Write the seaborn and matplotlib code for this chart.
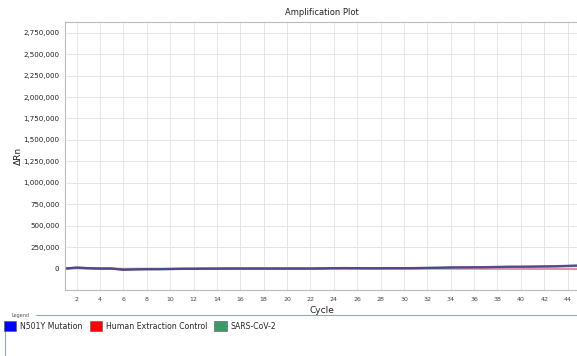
import numpy as np
import pandas as pd
import matplotlib
matplotlib.use("Agg")
import matplotlib.pyplot as plt
from matplotlib.patches import Patch
from matplotlib.lines import Line2D
from matplotlib.ticker import FuncFormatter, MultipleLocator
import seaborn as sns

# ==========================================================
# DATA
# ==========================================================

cycles = list(range(1, 46))
n501y = [0, 12000, 5000, 0, 0, -15000, -10000, -8000, -8000, -6000,
         -4000, -3000, -2000, -1000, 0, 0, 0, 0, 0, 0,
         0, 0, 2000, 5000, 6000, 5000, 4000, 4000, 5000, 5000,
         6000, 8000, 10000, 14000, 15000, 16000, 17000, 20000, 22000, 22000,
         24000, 26000, 28000, 32000, 36000]
human_ctrl = [0, 6000, 2000, 0, 0, -4000, -3000, -2000, -2000, -1000,
              0, 0, 0, 0, 0, 0, 0, 0, 0, 0,
              0, 0, 0, 0, 0, 0, 0, 0, 0, 0,
              0, 0, 0, -1000, -1000, -1000, -2000, -2000, -2000, -3000,
              -3000, -3000, -4000, -4000, -4000]
sars = [0, 10000, 4000, 0, 0, -12000, -9000, -7000, -7000, -5000,
        -3000, -2000, -1000, 0, 0, 0, 0, 0, 0, 0,
        0, 0, 2000, 4000, 5000, 4000, 3000, 3000, 4000, 4000,
        5000, 7000, 9000, 12000, 13000, 14000, 15000, 17000, 19000, 20000,
        21000, 23000, 25000, 29000, 33000]

series_names = ["N501Y Mutation", "Human Extraction Control", "SARS-CoV-2"]
series_colors = ["#0000ff", "#ff0000", "#3a9a68"]
line_colors = ["#4a3c8c", "#e07a9a", "#4a6a70"]

df = pd.concat([
    pd.DataFrame({"Cycle": cycles, "dRn": vals, "Target": name})
    for name, vals in zip(series_names, [n501y, human_ctrl, sars])
])

# ==========================================================
# PLOT
# ==========================================================

sns.set_style("white")
plt.rcParams['font.family'] = ['DejaVu Sans']

fig = plt.figure(figsize=(5.77, 3.56), dpi=100)
ax = fig.add_axes([65 / 577, 1 - 290 / 356, 1 - 65 / 577 + 0.004, (290 - 22) / 356])

# lines look dark purple with a pink halo in the instrument export
palette = dict(zip(series_names, line_colors))
sns.lineplot(data=df, x="Cycle", y="dRn", hue="Target",
             hue_order=["Human Extraction Control", "SARS-CoV-2", "N501Y Mutation"],
             palette=palette, linewidth=1.6, alpha=0.8, legend=False, ax=ax)

ax.set_xlim(1, 45)
ax.set_ylim(-250000, 2875000)
ax.xaxis.set_major_locator(MultipleLocator(2))
ax.yaxis.set_major_formatter(FuncFormatter(lambda v, p: f"{int(v):,}"))
ax.set_yticks(np.arange(0, 2750001, 250000))

ax.grid(True, color="#e6e6e6", linewidth=0.7)
for s in ax.spines.values():
    s.set_color("#bbbbbb")
    s.set_linewidth(0.8)
ax.tick_params(axis="y", labelsize=5.1, length=2, color="#888888", pad=2, labelcolor="#222222")
ax.tick_params(axis="x", labelsize=4.5, length=2, color="#888888", pad=3, labelcolor="#444444")

ax.set_xlabel("Cycle", fontsize=6.5, labelpad=3, color="#222222")
ax.set_ylabel("ΔRn", fontsize=6.5, labelpad=2, color="#222222")
ax.yaxis.set_label_coords(-(65 - 23) / 512, 0.5)
ax.set_title("Amplification Plot", fontsize=6, pad=5, color="#222222")

# legend group box
fig.add_artist(Line2D([5 / 577, 5 / 577, 577 / 577], [0, 1 - 315 / 356, 1 - 315 / 356],
                      color="#9aa8b4", linewidth=0.8))
fig.text(11 / 577, 1 - 315 / 356, "Legend", fontsize=3.5, color="#555555", va="center",
         backgroundcolor="white")

handles = [Patch(facecolor=c, edgecolor="#555555", linewidth=0.4) for c in series_colors]
fig.legend(handles, series_names, loc="upper left", bbox_to_anchor=(4 / 577, 1 - 321 / 356),
           ncol=3, frameon=False, fontsize=5.6, handlelength=1.6, handleheight=1.6,
           handletextpad=0.5, columnspacing=0.9, borderaxespad=0, borderpad=0)

fig.savefig("out.png", dpi=100)
plt.close()
